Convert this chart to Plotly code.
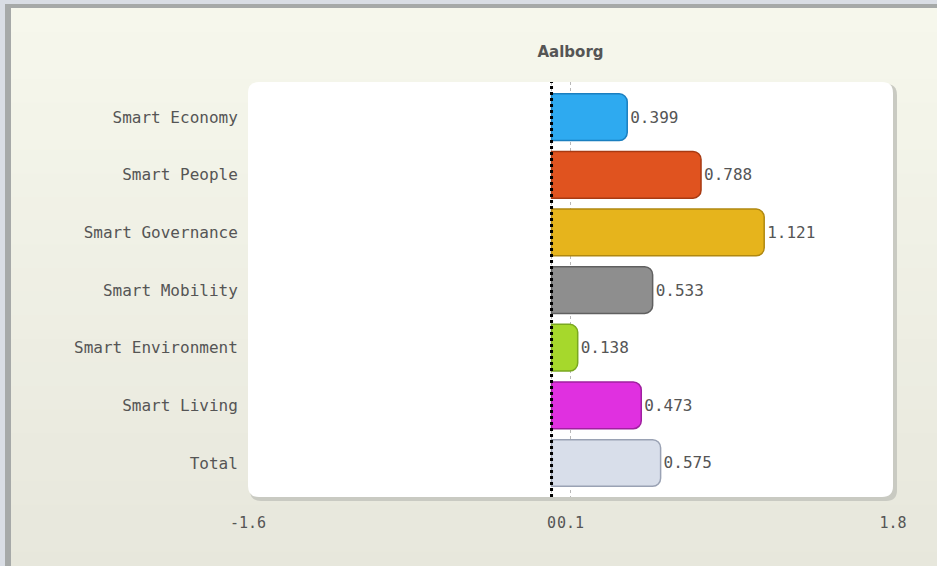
import plotly.graph_objects as go

categories = ["Smart Economy", "Smart People", "Smart Governance", "Smart Mobility",
              "Smart Environment", "Smart Living", "Total"]
values = [0.399, 0.788, 1.121, 0.533, 0.138, 0.473, 0.575]
bar_colors = ["#2eaaf0", "#e0531f", "#e6b41c", "#8e8e8e", "#a6d82c", "#e030e0", "#d8deea"]
line_colors = ["#1a7fc0", "#a83a12", "#b08810", "#606060", "#7aa820", "#a020a0", "#9aa2b4"]
tick_vals = [-1.6, 0, 0.1, 1.8]
tick_text = ["-1.6", "0", "0.1", "1.8"]
title_text = "Aalborg"

W, H = 937, 566
L, R, T, B = 248, 893, 82, 497
pw, ph = R - L, B - T


def px(p):
    return (p - L) / pw


def py(p):
    return (B - p) / ph


def rounded(x0, y0, x1, y1, r):
    rx, ry = r / pw, r / ph
    X0, X1 = px(x0), px(x1)
    Y0, Y1 = py(y0), py(y1)  # Y0 top, Y1 bottom
    return (f"M {X0+rx},{Y0} L {X1-rx},{Y0} Q {X1},{Y0} {X1},{Y0-ry} "
            f"L {X1},{Y1+ry} Q {X1},{Y1} {X1-rx},{Y1} L {X0+rx},{Y1} "
            f"Q {X0},{Y1} {X0},{Y1+ry} L {X0},{Y0-ry} Q {X0},{Y0} {X0+rx},{Y0} Z")


shapes = []
# outer frame
shapes.append(dict(type="rect", xref="paper", yref="paper", x0=px(5), x1=px(945),
                   y0=py(575), y1=py(4), fillcolor="#a6a9a8", line=dict(width=0), layer="below"))
# gradient background bands
top_c = (246, 247, 236)
bot_c = (231, 231, 220)
n = 24
y_start, y_end = 8, 575
for i in range(n):
    t = i / (n - 1)
    c = tuple(int(round(top_c[k] + (bot_c[k] - top_c[k]) * t)) for k in range(3))
    ya = y_start + (y_end - y_start) * i / n
    yb = y_start + (y_end - y_start) * (i + 1) / n + 1
    shapes.append(dict(type="rect", xref="paper", yref="paper", x0=px(11), x1=px(945),
                       y0=py(yb), y1=py(ya), fillcolor="rgb(%d,%d,%d)" % c,
                       line=dict(width=0), layer="below"))
# plot area shadow and white rounded rect
shapes.append(dict(type="path", xref="paper", yref="paper", path=rounded(L + 2, T + 2, R + 4, B + 4, 11),
                   fillcolor="#c9cac2", line=dict(width=0), layer="below"))
shapes.append(dict(type="path", xref="paper", yref="paper", path=rounded(L, T, R, B, 11),
                   fillcolor="#ffffff", line=dict(width=0), layer="below"))
# zero line (dotted black)
shapes.append(dict(type="line", xref="x", yref="paper", x0=0, x1=0, y0=0, y1=1,
                   line=dict(color="#000000", width=3, dash="dot"), layer="above"))

mono = "DejaVu Sans Mono, monospace"

fig = go.Figure()
fig.add_trace(go.Bar(
    y=categories, x=values, orientation="h",
    marker=dict(color=bar_colors, line=dict(color=line_colors, width=1.5), cornerradius=8),
    text=[f"{v:.3f}" for v in values], textposition="outside",
    textfont=dict(family=mono, size=16, color="#555555"),
    cliponaxis=False, showlegend=False, hoverinfo="skip",
))

fig.update_layout(
    width=W, height=H,
    margin=dict(l=L, r=W - R, t=T, b=H - B),
    paper_bgcolor="#d9dde4",
    plot_bgcolor="rgba(0,0,0,0)",
    bargap=0.19,
    shapes=shapes,
    title=dict(text=f"<b>{title_text}</b>", x=0.5, xref="paper", xanchor="center",
               y=1 - 52 / H, yanchor="middle",
               font=dict(family="DejaVu Sans, sans-serif", size=15, color="#555555")),
    xaxis=dict(range=[-1.6, 1.8], tickvals=tick_vals, ticktext=tick_text, tickangle=0,
               showgrid=True, gridcolor="#b8b8b8", griddash="dot", gridwidth=1,
               zeroline=False, showline=False,
               ticks="outside", ticklen=12, tickcolor="rgba(0,0,0,0)",
               tickfont=dict(family=mono, size=15, color="#555555")),
    yaxis=dict(categoryorder="array", categoryarray=categories, range=[6.59, -0.61],
               showgrid=False, zeroline=False, showline=False,
               ticks="outside", ticklen=6, tickcolor="rgba(0,0,0,0)",
               tickfont=dict(family=mono, size=16, color="#555555")),
)

fig.write_html("out.html", config={"displayModeBar": False},
               post_script="document.body.style.margin='0px';")
